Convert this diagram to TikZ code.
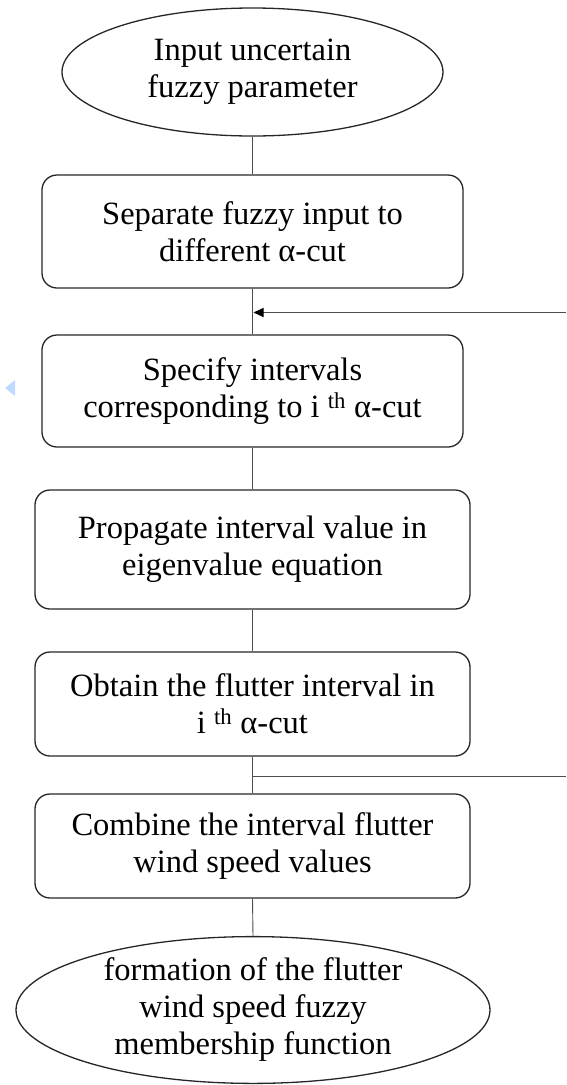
\documentclass[tikz,border=0pt]{standalone}
\usepackage{fontspec}
\setmainfont{Liberation Serif}
\usetikzlibrary{shapes.geometric,arrows.meta}
\begin{document}
\begin{tikzpicture}[x=1pt,y=-1pt,
  txt/.style={align=center,font=\fontsize{32.5}{37}\selectfont,text=black},
  oval/.style={ellipse,draw=black!85,line width=1.3pt,inner sep=0pt,txt},
  stepbox/.style={rectangle,rounded corners=15pt,draw=black!85,line width=1.3pt,inner sep=0pt,txt},
  conn/.style={draw=black!70,line width=0.9pt}]
\useasboundingbox (0,0) rectangle (566,1085);
\node[oval,minimum width=381pt,minimum height=128pt] (n0) at (252.5,72) {Input uncertain\\fuzzy parameter};
\node[stepbox,minimum width=421pt,minimum height=113pt] (n1) at (252.5,231.5) {Separate fuzzy input to\\different α-cut};
\node[stepbox,minimum width=421pt,minimum height=112pt] (n2) at (252.5,391) {Specify intervals\\corresponding to i \textsuperscript{th} α-cut};
\node[stepbox,minimum width=435pt,minimum height=119pt] (n3) at (252.5,549.5) {Propagate interval value in\\eigenvalue equation};
\node[stepbox,minimum width=435pt,minimum height=104pt] (n4) at (252.5,704) {Obtain the flutter interval in\\i \textsuperscript{th} α-cut};
\node[stepbox,minimum width=435pt,minimum height=104pt] (n5) at (252.5,846) {Combine the interval flutter\\wind speed values};
\node[oval,minimum width=474pt,minimum height=146pt] (n6) at (253,1010) {formation of the flutter\\wind speed fuzzy\\membership function};
\coordinate (j1) at (252.5,312.5);
\coordinate (r1) at (566,312.5);
\coordinate (j2) at (252.5,776);
\coordinate (r2) at (566,776);
\draw[conn] (n0.south) -- (n1.north);
\draw[conn] (n1.south) -- (n2.north);
\draw[conn] (n2.south) -- (n3.north);
\draw[conn] (n3.south) -- (n4.north);
\draw[conn] (n4.south) -- (n5.north);
\draw[conn] (n5.south) -- (n6.north);
\draw[conn,-{Triangle[length=10pt,width=9pt,color=black]},shorten >=1pt] (r1) -- (j1);
\draw[conn] (j2) -- (r2);
\fill[blue!60!cyan!25] (5,388) -- (15,380) -- (15,396) -- cycle;
\end{tikzpicture}
\end{document}
